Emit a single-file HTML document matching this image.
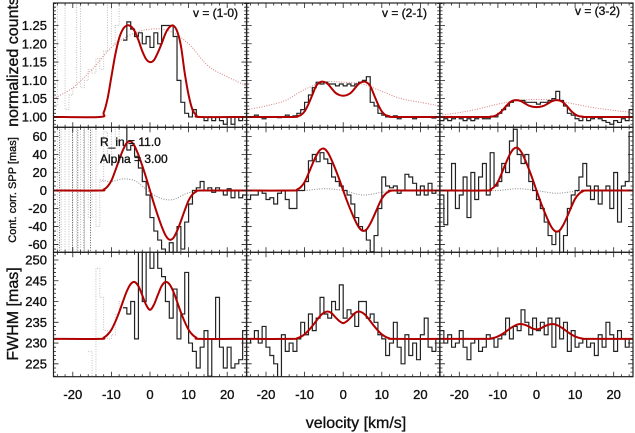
<!DOCTYPE html>
<html><head><meta charset="utf-8">
<style>
html,body{margin:0;padding:0;background:#fff;}
svg{display:block;font-family:"Liberation Sans",sans-serif;}
svg text{stroke:#111;stroke-width:0.35px;}
</style></head>
<body>
<svg id="chart" width="635" height="433" viewBox="0 0 635 433" xmlns="http://www.w3.org/2000/svg">
<text x="0" y="0" transform="translate(18,62) rotate(-90)" text-anchor="middle" font-size="16" fill="#111">normalized counts</text>
<text x="0" y="0" transform="translate(16,190) rotate(-90)" text-anchor="middle" font-size="11" fill="#111">Cont. corr. SPP [mas]</text>
<text x="0" y="0" transform="translate(18,314) rotate(-90)" text-anchor="middle" font-size="16" fill="#111">FWHM [mas]</text>
<text x="356" y="428" text-anchor="middle" font-size="16" fill="#111">velocity [km/s]</text>
<text x="238" y="17" text-anchor="end" font-size="12" fill="#111">v = (1-0)</text>
<text x="427" y="17" text-anchor="end" font-size="12" fill="#111">v = (2-1)</text>
<text x="620" y="15" text-anchor="end" font-size="12" fill="#111">v = (3-2)</text>
<script>
</script>
</svg>
<script>
// ---- data ----
const binCenters = Array.from({length:50},(_, i)=>-24.5+i);
const modelV = [-13,-12,-11,-10,-9,-8,-7,-6,-5,-4,-3,-2,-1,0,1,2,3,4,5,6,7,8,9,10,11,12,13];
const broadV = [-25,-20,-15,-10,-5,0,5,10,15,20,25];
const xTicks = [-20,-10,0,10,20];
const yTicksTop = [1.00,1.05,1.10,1.15,1.20,1.25];
const yTicksMid = [-60,-40,-20,0,20,40,60];
const yTicksBot = [225,230,235,240,245,250];
const yLabelsTop = ["1.00","1.05","1.10","1.15","1.20","1.25"];

const topGrey1 = [1.03,1.35,1.35,1.02,1.06,1.08,1.35,1.08,1.10,1.13,1.12,1.16,1.13,1.18,1.35,1.20,1.25,1.35];
const topData1 = [1.21,1.26,1.24,1.22,1.23,1.20,1.22,1.19,1.23,1.20,1.25,1.25,1.25,1.22,1.10,1.04,1.01,1.00,1.02,1.00,1.00,0.99,1.00,0.99,1.00,0.99,0.98,1.00,0.98,1.00,0.99,1.00];
const topData2 = [1.00,1.00,1.005,1.00,0.995,1.00,1.00,1.00,0.998,1.00,1.005,1.00,1.003,1.01,1.02,1.04,1.06,1.08,1.095,1.09,1.095,1.09,1.09,1.085,1.09,1.085,1.09,1.085,1.09,1.095,1.10,1.11,1.04,1.03,1.01,1.005,1.00,1.00,1.003,0.995,1.00,1.00,1.00,0.995,1.00,1.00,1.00,1.00,0.997,1.00];
const topData3 = [0.99,0.995,0.99,0.995,1.00,0.995,0.99,0.995,0.99,0.995,1.00,0.995,0.995,1.00,1.00,1.01,1.02,1.03,1.04,1.045,1.045,1.045,1.04,1.04,1.04,1.035,1.04,1.04,1.045,1.05,1.07,1.045,1.03,1.01,1.005,0.995,0.99,1.00,0.99,0.995,1.00,0.995,0.99,0.985,0.98,0.99,0.985,0.995,0.99,1.02];
const topBroad1 = [1.05,1.08,1.13,1.19,1.225,1.24,1.235,1.20,1.14,1.11,1.085];
const topBroad2 = [1.02,1.03,1.045,1.075,1.095,1.095,1.09,1.07,1.05,1.04,1.03];
const topBroad3 = [1.005,1.012,1.022,1.035,1.045,1.048,1.045,1.035,1.025,1.018,1.012];
const topBase = 1.0;
const topModel1 = [0,0.012,0.05,0.11,0.17,0.215,0.24,0.25,0.248,0.235,0.21,0.18,0.158,0.15,0.155,0.175,0.2,0.228,0.245,0.25,0.235,0.195,0.12,0.06,0.02,0.005,0];
const topModel2 = [0,0.002,0.005,0.015,0.035,0.06,0.085,0.095,0.096,0.09,0.078,0.066,0.06,0.058,0.06,0.066,0.078,0.09,0.096,0.095,0.085,0.06,0.035,0.015,0.005,0.002,0];
const topModel3 = [0,0.001,0.002,0.007,0.016,0.028,0.039,0.045,0.046,0.043,0.037,0.031,0.028,0.027,0.028,0.031,0.037,0.043,0.046,0.045,0.039,0.028,0.016,0.007,0.002,0.001,0];

const midGrey1 = [70,-70,70,-70,70,-70,70,-70,70,-30,70,-40,10,65,40,70,55,70];
const midBlackLinesV = [-23.4,-20.1,-18.7,-17.1,-15.4];
const midData1 = [70,45,50,38,25,10,-5,-30,-45,-55,-65,-70,-58,-70,-40,-65,-35,-15,0,3,10,0,3,-2,3,0,-5,2,-8,0,-8,-5];
const midData2 = [-10,-5,-5,0,-3,-10,-8,-15,-3,0,-10,-20,-20,0,0,10,33,40,32,42,35,30,15,10,5,0,-5,-15,-30,-40,-45,-55,-68,-50,-20,15,5,3,5,-3,0,18,15,8,-5,5,-5,8,-3,0];
const midData3 = [-5,-38,0,30,-20,-5,15,-30,20,-10,15,30,-5,42,5,10,30,20,55,68,40,30,40,10,0,-10,-20,-35,-50,-60,-45,-70,-50,-20,-5,0,15,30,5,-10,5,-15,0,5,-20,20,-35,5,10,65];
const midContV1 = [-13,-10,-7,-4,-2,0,3,6,9,12];
const midCont1 = [12,10,13,11,5,-2,-9,-10,-4,0];
const midContV = [-25,-20,-15,-10,-5,0,5,10,15,20,25];
const midCont2 = [0,0,0,0,2,0,-5,-2,0,0,0];
const midCont3 = [0,0,0,0,2,0,-3,-1,0,0,0];
const midModel1 = [0,1.1,4.4,11,22,34,45,53,54.5,49.5,39.6,27.5,14.3,0,-14.3,-27.5,-39.6,-49.5,-54.5,-53,-45,-34,-22,-11,-4.4,-1.1,0];
const midModel2 = [0,0.9,3.8,9.4,18.8,29,38.5,45,46.5,42.3,33.8,23.5,12.2,0,-11.7,-22.5,-32.4,-40.5,-44.6,-43.4,-36.9,-27.9,-18,-9,-3.6,-0.9,0];
const midModel3 = [0,1,3.8,9.6,19.2,29.8,39.4,46,47.5,43.2,34.6,24,12.5,0,-12,-23,-33.1,-41.4,-45.5,-44.2,-37.7,-28.5,-18.4,-9.2,-3.7,-0.9,0];

const botGrey1 = [null,null,null,null,null,null,null,null,null,228,221,248,241,233,231,232,237,240];
const botData1 = [238.5,237,240,231,252,240,252,248,252,248,246,240,236,243,231,237,247,230,228,224,229,233,222,231,241,229,224,229,224,225,226,233];
const botData2 = [230,231,233,230,234,229,227,225,221,232,228,230,228,231,235,232,237,233,236,241,237,236,240,238,244,236,238,237,234,240,240,236,237,235,232,231,227,230,235,229,225,232,227,230,226,232,236,229,228,231];
const botData3 = [233,230,232,229,230,233,229,226,230,231,228,229,232,231,229,231,232,236,231,234,233,238,235,232,236,233,235,232,236,229,236,231,235,228,233,229,230,231,229,230,227,232,229,235,232,228,233,231,229,231];
const botBase = 231;
const botModel1 = [0,0.3,1.0,2.2,4.1,6.4,9.0,11.5,13.2,13.7,12.7,10.5,8.2,7.0,8.2,10.5,12.7,13.7,13.2,11.5,9.0,6.4,4.1,2.2,1.0,0.3,0];
const botModel2 = [0,0.15,0.5,1.1,2.0,3.1,4.3,5.5,6.3,6.6,6.2,5.2,4.3,3.8,4.3,5.2,6.2,6.6,6.3,5.5,4.3,3.1,2.0,1.1,0.5,0.15,0];
const botModel3 = [0,0.08,0.27,0.6,1.1,1.7,2.4,3.0,3.45,3.6,3.4,3.0,2.5,2.3,2.5,3.0,3.4,3.6,3.45,3.0,2.4,1.7,1.1,0.6,0.27,0.08,0];

// ---- layout ----
const NS = "http://www.w3.org/2000/svg";
const svg = document.getElementById('chart');
const colL = [53.5,246.7,440], colW = 193;
const rows = [
  {top:3, bot:127.3, min:0.9717, max:1.3115},
  {top:127.3, bot:252.3, min:-68.6, max:70.2},
  {top:252.3, bot:376.7, min:221.9, max:251.85}
];
function xs(c,v){ return colL[c] + (v+25)/50*colW; }
function ys(r,val){ const R=rows[r]; return R.bot - (val-R.min)/(R.max-R.min)*(R.bot-R.top); }
function mk(tag, attrs, parent){ const e=document.createElementNS(NS,tag); for(const k in attrs) e.setAttribute(k,attrs[k]); (parent||svg).appendChild(e); return e; }

const defs = mk('defs',{});
for(let r=0;r<3;r++) for(let c=0;c<3;c++){
  const cp = mk('clipPath',{id:'clip'+r+c},defs);
  mk('rect',{x:colL[c],y:rows[r].top,width:colW,height:rows[r].bot-rows[r].top},cp);
}

function histPath(c,r,centers,vals){
  let d='', pen=false;
  for(let i=0;i<vals.length;i++){
    const v=vals[i];
    if(v===null||v===undefined){ pen=false; continue; }
    const x0=xs(c,centers[i]-0.5), x1=xs(c,centers[i]+0.5), y=ys(r,v);
    if(!pen){ d+=`M${x0.toFixed(2)},${y.toFixed(2)}`; pen=true; } else d+=`V${y.toFixed(2)}`;
    d+=`H${x1.toFixed(2)}`;
  }
  return d;
}
function smoothPath(c,r,vs,vals){
  const p = vs.map((v,i)=>[xs(c,v),ys(r,vals[i])]);
  let d=`M${p[0][0].toFixed(2)},${p[0][1].toFixed(2)}`;
  for(let i=0;i<p.length-1;i++){
    const p0=p[Math.max(0,i-1)],p1=p[i],p2=p[i+1],p3=p[Math.min(p.length-1,i+2)];
    const c1=[p1[0]+(p2[0]-p0[0])/6,p1[1]+(p2[1]-p0[1])/6];
    const c2=[p2[0]-(p3[0]-p1[0])/6,p2[1]-(p3[1]-p1[1])/6];
    d+=`C${c1[0].toFixed(2)},${c1[1].toFixed(2)} ${c2[0].toFixed(2)},${c2[1].toFixed(2)} ${p2[0].toFixed(2)},${p2[1].toFixed(2)}`;
  }
  return d;
}
function modelPath(c,r,base,excess){
  const vs=[-25].concat(modelV).concat([25]);
  const vals=[base].concat(excess.map(e=>base+e)).concat([base]);
  return smoothPath(c,r,vs,vals);
}
function group(r,c,name){
  const g=mk('g',{'clip-path':`url(#clip${r}${c})`});
  
  
  return g;
}

const topData=[topData1,topData2,topData3], topBroad=[topBroad1,topBroad2,topBroad3], topModel=[topModel1,topModel2,topModel3];
const midData=[midData1,midData2,midData3], midModel=[midModel1,midModel2,midModel3];
const botData=[botData1,botData2,botData3], botModel=[botModel1,botModel2,botModel3];
const trans = ['1-0','2-1','3-2'];

for(let c=0;c<3;c++){
  let g=group(0,c,'counts-panel-'+trans[c]);
  let e=mk('path',{d:smoothPath(c,0,broadV,topBroad[c]),fill:'none',stroke:'#d98080','stroke-width':1,'stroke-dasharray':'1,1.5'},g);
  
  
  if(c===0){
    e=mk('path',{d:histPath(0,0,binCenters.slice(0,18),topGrey1),fill:'none',stroke:'#b8b8b8','stroke-width':0.9,'stroke-dasharray':'1,1.5'},g);
    
    
    e=mk('path',{d:histPath(0,0,binCenters.slice(18),topData1),fill:'none',stroke:'#222','stroke-width':1.2},g);
  } else {
    e=mk('path',{d:histPath(c,0,binCenters,topData[c]),fill:'none',stroke:'#222','stroke-width':1.2},g);
  }
  
  
  e=mk('path',{d:modelPath(c,0,topBase,topModel[c]),fill:'none',stroke:'#b00000','stroke-width':2},g);
  
  

  g=group(1,c,'spp-panel-'+trans[c]);
  if(c===0){
    e=mk('path',{d:smoothPath(0,1,midContV1,midCont1),fill:'none',stroke:'#888','stroke-width':1,'stroke-dasharray':'1,1.5'},g);
    
    
    e=mk('path',{d:histPath(0,1,binCenters.slice(0,18),midGrey1),fill:'none',stroke:'#b8b8b8','stroke-width':0.9,'stroke-dasharray':'1,1.5'},g);
    
    
    for(const v of midBlackLinesV){
      e=mk('line',{x1:xs(0,v),x2:xs(0,v),y1:rows[1].top,y2:rows[1].bot,stroke:'#333','stroke-width':0.8,'stroke-dasharray':'1,1.5'},g);
      
      
    }
    e=mk('path',{d:histPath(0,1,binCenters.slice(18),midData1),fill:'none',stroke:'#222','stroke-width':1.2},g);
  } else {
    e=mk('path',{d:smoothPath(c,1,midContV,c===1?midCont2:midCont3),fill:'none',stroke:'#888','stroke-width':1,'stroke-dasharray':'1,1.5'},g);
    
    
    e=mk('path',{d:histPath(c,1,binCenters,midData[c]),fill:'none',stroke:'#222','stroke-width':1.2},g);
  }
  
  
  e=mk('path',{d:modelPath(c,1,0,midModel[c]),fill:'none',stroke:'#b00000','stroke-width':2},g);
  
  

  g=group(2,c,'fwhm-panel-'+trans[c]);
  if(c===0){
    e=mk('path',{d:histPath(0,2,binCenters.slice(0,18),botGrey1),fill:'none',stroke:'#b8b8b8','stroke-width':0.9,'stroke-dasharray':'1,1.5'},g);
    
    
    e=mk('path',{d:histPath(0,2,binCenters.slice(18),botData1),fill:'none',stroke:'#222','stroke-width':1.2},g);
  } else {
    e=mk('path',{d:histPath(c,2,binCenters,botData[c]),fill:'none',stroke:'#222','stroke-width':1.2},g);
  }
  
  
  e=mk('path',{d:modelPath(c,2,botBase,botModel[c]),fill:'none',stroke:'#b00000','stroke-width':2},g);
  
  
}

// annotation labels (drawn over data)
let lab=mk('text',{x:100,y:146,'font-size':12,fill:'#111'});
lab.textContent='R_in = 11.0';


lab=mk('text',{x:100,y:163,'font-size':12,fill:'#111'});
lab.textContent='Alpha = 3.00';



const yMajors=[yTicksTop,yTicksMid,yTicksBot];
const yMinorStep=[0.01,5,1];
for(let r=0;r<3;r++){
  const R=rows[r];
  for(let c=0;c<3;c++){
    const x0=colL[c], x1=colL[c]+colW;
    let e=mk('rect',{x:x0,y:R.top,width:colW,height:R.bot-R.top,fill:'none',stroke:'#222','stroke-width':1.2});
    
    
    let d='';
    for(let v=-24;v<=24;v+=2){
      const L = (v%10===0)?5:2.5, x=xs(c,v);
      d+=`M${x},${R.bot}v${-L}M${x},${R.top}v${L}`;
    }
    const st=yMinorStep[r];
    const n=Math.round((R.max-R.min)/st);
    for(let k=0;k<=n+1;k++){
      const val=Math.ceil(R.min/st)*st+k*st;
      if(val>R.max) break;
      const y=ys(r,val);
      const major=yMajors[r].some(t=>Math.abs(t-val)<st/10);
      const L=major?5:2.5;
      d+=`M${x0},${y}h${L}M${x1},${y}h${-L}`;
    }
    e=mk('path',{d:d,stroke:'#222','stroke-width':0.8,fill:'none'});
    
    
  }
  yMajors[r].forEach((t,i)=>{
    const e=mk('text',{x:47,y:ys(r,t)+4.5,'text-anchor':'end','font-size':13,fill:'#111'});
    e.textContent = r===0 ? yLabelsTop[i] : String(t);
    
    
  });
}
for(let c=0;c<3;c++){
  for(const t of xTicks){
    const e=mk('text',{x:xs(c,t),y:399,'text-anchor':'middle','font-size':13,fill:'#111'});
    e.textContent=String(t);
    
    
  }
}
</script>
</body></html>
